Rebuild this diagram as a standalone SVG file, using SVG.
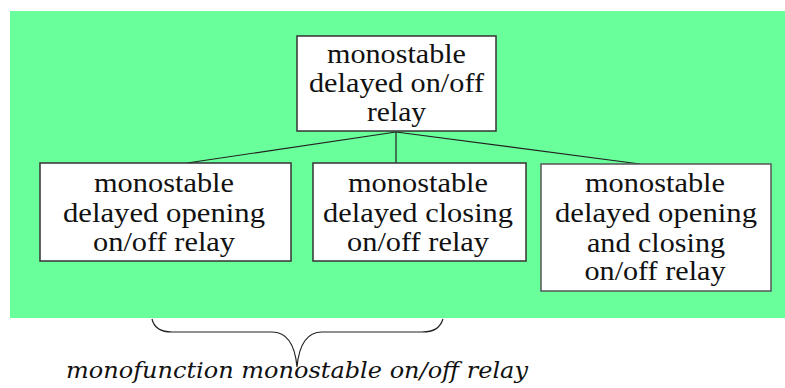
<svg xmlns="http://www.w3.org/2000/svg" width="785" height="388" viewBox="0 0 785 388">
<style>
.box{fill:#fff;stroke:#333;stroke-width:1.5}
.t{font-family:"Liberation Serif","Times New Roman",serif;font-size:27px;fill:#111;text-anchor:middle}
.con{stroke:#222;stroke-width:1.2;fill:none}
.cap{font-family:"DejaVu Serif",serif;font-style:italic;font-size:23px;fill:#111}
</style>
<rect x="0" y="0" width="785" height="388" fill="#fff"/>
<rect x="10" y="11" width="775" height="307" fill="#69ff9a"/>
<g id="connectors">
<line class="con" x1="396" y1="132" x2="396" y2="163"/>
<line class="con" x1="396" y1="132" x2="187" y2="163"/>
<line class="con" x1="396" y1="132" x2="640" y2="164"/>
<path class="con" d="M152,319 C154,328 160,332 172,332 L272,332 C288,332 295,345 297,367 C299,345 306,332 322,332 L422,332 C434,332 440,328 443,319"/>
</g>
<g id="top">
<rect class="box" x="297" y="36" width="199" height="95"/>
<text class="t" x="396.5" y="63" textLength="139" lengthAdjust="spacingAndGlyphs">monostable</text>
<text class="t" x="396.5" y="92" textLength="175" lengthAdjust="spacingAndGlyphs">delayed on/off</text>
<text class="t" x="396.5" y="121" textLength="59" lengthAdjust="spacingAndGlyphs">relay</text>
</g>
<g id="left">
<rect class="box" x="40" y="163" width="251" height="98"/>
<text class="t" x="164" y="192" textLength="140" lengthAdjust="spacingAndGlyphs">monostable</text>
<text class="t" x="164" y="222" textLength="202" lengthAdjust="spacingAndGlyphs">delayed opening</text>
<text class="t" x="164" y="251" textLength="142" lengthAdjust="spacingAndGlyphs">on/off relay</text>
</g>
<g id="middle">
<rect class="box" x="313" y="163" width="213" height="98"/>
<text class="t" x="418" y="192" textLength="140" lengthAdjust="spacingAndGlyphs">monostable</text>
<text class="t" x="418" y="222" textLength="190" lengthAdjust="spacingAndGlyphs">delayed closing</text>
<text class="t" x="418" y="251" textLength="142" lengthAdjust="spacingAndGlyphs">on/off relay</text>
</g>
<g id="right">
<rect class="box" x="541" y="164" width="230" height="127" style="stroke:#555"/>
<text class="t" x="655" y="192" textLength="140" lengthAdjust="spacingAndGlyphs">monostable</text>
<text class="t" x="656" y="222" textLength="202" lengthAdjust="spacingAndGlyphs">delayed opening</text>
<text class="t" x="656" y="252" textLength="138" lengthAdjust="spacingAndGlyphs">and closing</text>
<text class="t" x="655" y="280" textLength="141" lengthAdjust="spacingAndGlyphs">on/off relay</text>
</g>
<text class="cap" x="66" y="378" textLength="462" lengthAdjust="spacingAndGlyphs">monofunction monostable on/off relay</text>
</svg>
